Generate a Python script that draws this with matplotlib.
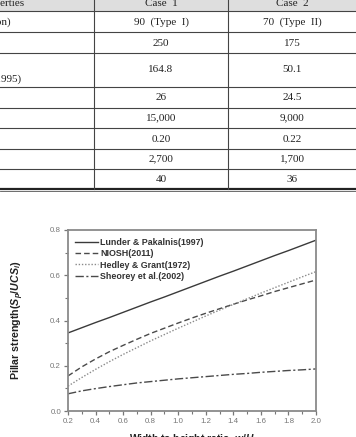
import matplotlib
matplotlib.use("Agg")
import matplotlib.pyplot as plt
from matplotlib.ticker import MultipleLocator

# ---------------- data ----------------
table_header = ["Properties", "Case  1", "Case  2"]
row_labels = ["(Classification)", "", "(Hoek et al., 1995)", "", "", "", "", ""]
case1 = ["90  (Type  I)", "250", "164.8", "26", "15,000", "0.20", "2,700", "40"]
case2 = ["70  (Type  II)", "175", "50.1", "24.5", "9,000", "0.22", "1,700", "36"]

wh = [0.2, 0.3, 0.4, 0.5, 0.6, 0.7, 0.8, 0.9, 1.0, 1.1,
      1.2, 1.3, 1.4, 1.5, 1.6, 1.7, 1.8, 1.9, 2.0]
lunder = [0.345, 0.368, 0.391, 0.413, 0.436, 0.459, 0.482, 0.504, 0.527, 0.550,
          0.573, 0.596, 0.618, 0.641, 0.664, 0.687, 0.709, 0.732, 0.755]
niosh = [0.155, 0.195, 0.230, 0.262, 0.290, 0.317, 0.343, 0.366, 0.389, 0.411,
         0.432, 0.452, 0.472, 0.491, 0.509, 0.528, 0.545, 0.562, 0.579]
hedley = [0.110, 0.148, 0.184, 0.218, 0.250, 0.280, 0.310, 0.338, 0.366, 0.393,
          0.420, 0.446, 0.471, 0.496, 0.521, 0.545, 0.569, 0.593, 0.616]
sheorey = [0.076, 0.089, 0.099, 0.108, 0.116, 0.124, 0.130, 0.136, 0.142, 0.147,
           0.152, 0.157, 0.162, 0.166, 0.171, 0.175, 0.179, 0.182, 0.186]
legend_labels = ["Lunder & Pakalnis(1997)", "NIOSH(2011)",
                 "Hedley & Grant(1972)", "Sheorey et al.(2002)"]

plt.rcParams['mathtext.fontset'] = 'custom'
plt.rcParams['mathtext.it'] = 'Liberation Sans:bold:italic'
plt.rcParams['mathtext.rm'] = 'Liberation Sans:bold'
plt.rcParams['mathtext.bf'] = 'Liberation Sans:bold'

W, H = 356, 437
fig = plt.figure(figsize=(W / 100, H / 100), dpi=100)

# ---------------- table (pixel coordinates overlay) ----------------
tab = fig.add_axes([0, 0, 1, 1])
tab.set_xlim(0, W)
tab.set_ylim(H, 0)
tab.axis('off')

serif = 'Liberation Serif'
tab.fill_between([0, W], 0, 11, color='#dedede', lw=0)
hlines = [11, 32, 53, 87, 108, 128, 149, 169]
for y in hlines:
    tab.plot([0, W], [y, y], color='#444444', lw=0.8)
tab.plot([0, W], [189, 189], color='#222222', lw=1.6)
tab.plot([0, W], [191, 191], color='#555555', lw=0.6)
for x in [94, 228]:
    tab.plot([x, x], [0, 189], color='#444444', lw=0.8)

fs = 8.0
tab.text(25, 3.5, table_header[0], ha='right', va='center', family=serif, fontsize=fs, color='#222')
tab.text(161, 3.5, table_header[1], ha='center', va='center', family=serif, fontsize=fs, color='#222')
tab.text(292, 3.5, table_header[2], ha='center', va='center', family=serif, fontsize=fs, color='#222')

row_y = [22, 43, 70, 98, 118, 139, 159, 179]
tab.text(11, 22.5, row_labels[0], ha='right', va='center', family=serif, fontsize=fs, color='#222')
tab.text(21, 79, row_labels[2], ha='right', va='center', family=serif, fontsize=fs, color='#222')
for y, a, b in zip(row_y, case1, case2):
    tab.text(161, y, a, ha='center', va='center', family=serif, fontsize=fs, color='#222')
    tab.text(292, y, b, ha='center', va='center', family=serif, fontsize=fs, color='#222')

# ---------------- chart ----------------
left, right, top, bottom = 68, 316, 230, 411
ax = fig.add_axes([left / W, 1 - bottom / H, (right - left) / W, (bottom - top) / H])

ax.plot(wh, lunder, color='#3a3a3a', lw=1.0, ls='-', label=legend_labels[0])
ax.plot(wh, niosh, color='#4a4a4a', lw=1.0, dashes=(4, 2.2), label=legend_labels[1])
ax.plot(wh, hedley, color='#8a8a8a', lw=1.0, dashes=(1, 1.3), label=legend_labels[2])
ax.plot(wh, sheorey, color='#4a4a4a', lw=1.0, dashes=(6, 1.8, 1.5, 1.8), label=legend_labels[3])

ax.set_xlim(0.2, 2.0)
ax.set_ylim(0.0, 0.8)
ax.xaxis.set_major_locator(MultipleLocator(0.2))
ax.xaxis.set_minor_locator(MultipleLocator(0.1))
ax.yaxis.set_major_locator(MultipleLocator(0.2))
ax.yaxis.set_minor_locator(MultipleLocator(0.1))
ax.xaxis.set_major_formatter(plt.FuncFormatter(lambda v, p: f"{v:.1f}"))
ax.yaxis.set_major_formatter(plt.FuncFormatter(lambda v, p: f"{v:.1f}"))

for s in ax.spines.values():
    s.set_color('#8a8a8a')
    s.set_linewidth(1.3)
ax.tick_params(which='major', direction='out', length=3, width=0.9, color='#777777',
               labelsize=5.7, labelcolor='#777777', pad=2)
ax.tick_params(which='minor', direction='out', length=2, width=0.8, color='#777777')
for lab in ax.get_xticklabels() + ax.get_yticklabels():
    lab.set_family('Liberation Sans')

ax.set_ylabel(r"Pillar strength($S_p$/$UCS_i$)", family='Liberation Sans',
              fontweight='bold', fontsize=7.7, color='#222222')
ax.yaxis.set_label_coords(-0.17, 0.5)
ax.set_xlabel(r"Width to height ratio, $w/H$", family='Liberation Sans',
              fontweight='bold', fontsize=7.4, color='#222222', va='top')
ax.xaxis.set_label_coords(0.5, -0.115)

leg = ax.legend(loc='upper left', frameon=False, fontsize=6.4, handlelength=2.6,
                handletextpad=0.3, labelspacing=0.25, borderaxespad=0.0,
                bbox_to_anchor=(0.012, 0.975))
for t in leg.get_texts():
    t.set_family('Liberation Sans')
    t.set_fontweight('bold')
    t.set_color('#333333')

fig.savefig("out.png", dpi=100)
